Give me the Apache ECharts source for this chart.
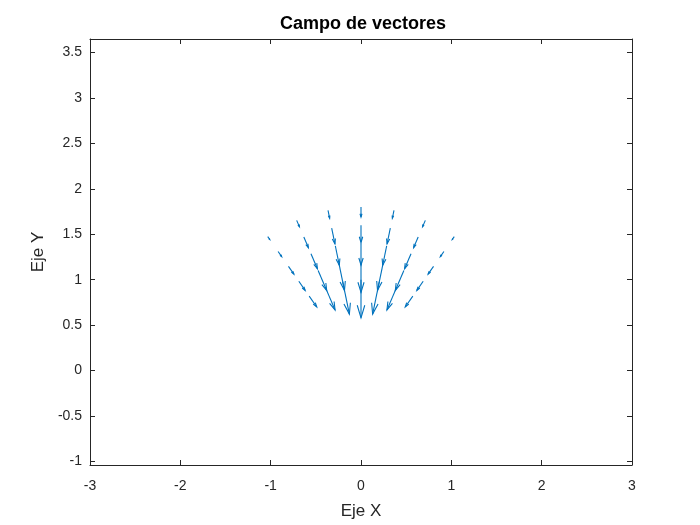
<!DOCTYPE html>
<html>
<head>
<meta charset="utf-8">
<script src="https://cdn.jsdelivr.net/npm/echarts@6/dist/echarts.min.js"></script>
<style>
  html, body { margin: 0; padding: 0; background: #fff; }
  #main { width: 700px; height: 525px; }
</style>
</head>
<body>
<div id="main"></div>
<script>
// campo de vectores: flechas radiales hacia el origen
var rayAngles = [55, 66.7, 78.3, 90, 101.7, 113.3, 125];   // grados
var radii = [1.0, 1.2, 1.4, 1.6, 1.8];                      // radio de la cola
// longitud de cada flecha (unidades de datos), una fila por rayo, en orden de radii
var arrowLen = [
  [0.146, 0.122, 0.105, 0.069, 0.039],
  [0.274, 0.240, 0.180, 0.127, 0.077],
  [0.365, 0.298, 0.215, 0.177, 0.088],
  [0.420, 0.340, 0.240, 0.190, 0.110],
  [0.365, 0.298, 0.215, 0.177, 0.088],
  [0.274, 0.240, 0.180, 0.127, 0.077],
  [0.146, 0.122, 0.105, 0.069, 0.039]
];
var xTicks = [-3, -2, -1, 0, 1, 2, 3];
var yTicks = [-1, -0.5, 0, 0.5, 1, 1.5, 2, 2.5, 3, 3.5];

var data = [];
rayAngles.forEach(function (a, i) {
  radii.forEach(function (r, j) {
    data.push([a, r, arrowLen[i][j]]);
  });
});

var chart = echarts.init(document.getElementById('main'));
var axisCol = '#262626';
var font = 'Arial, "Liberation Sans", Helvetica, sans-serif';

function baseAxis(extra) {
  var ax = {
    type: 'value',
    axisLine: { show: true, onZero: false, lineStyle: { color: axisCol, width: 1 } },
    axisTick: { show: true, inside: true, length: 5, lineStyle: { color: axisCol } },
    splitLine: { show: false },
    axisLabel: { color: axisCol, fontSize: 14, fontFamily: font }
  };
  return Object.assign(ax, extra);
}

var option = {
  animation: false,
  backgroundColor: '#fff',
  graphic: [{
    type: 'text', x: 363, y: 24,
    style: { text: 'Campo de vectores', fontSize: 18, fontWeight: 'bold', fontFamily: font,
             fill: '#000', align: 'center', verticalAlign: 'middle' }
  }],
  grid: { left: 90, right: 68, top: 39, bottom: 60 },
  xAxis: [
    baseAxis({ min: -3, max: 3, interval: 1, position: 'bottom',
      name: 'Eje X', nameLocation: 'middle', nameGap: 38,
      nameTextStyle: { color: axisCol, fontSize: 17, fontFamily: font },
      axisLabel: { color: axisCol, fontSize: 14, fontFamily: font, margin: 14 } }),
    baseAxis({ min: -3, max: 3, interval: 1, position: 'top',
      axisLabel: { show: false } })
  ],
  yAxis: [
    baseAxis({ min: -1.04, max: 3.65, position: 'left',
      name: 'Eje Y', nameLocation: 'middle', nameGap: 40,
      nameTextStyle: { color: axisCol, fontSize: 17, fontFamily: font },
      axisTick: { show: true, inside: true, length: 5, customValues: yTicks, lineStyle: { color: axisCol } },
      axisLabel: { color: axisCol, fontSize: 14, fontFamily: font, margin: 8, customValues: yTicks } }),
    baseAxis({ min: -1.04, max: 3.65, position: 'right',
      axisTick: { show: true, inside: true, length: 5, customValues: yTicks, lineStyle: { color: axisCol } },
      axisLabel: { show: false } })
  ],
  series: [{
    type: 'custom',
    xAxisIndex: 0,
    yAxisIndex: 0,
    data: data,
    renderItem: function (params, api) {
      var a = api.value(0) * Math.PI / 180;
      var r = api.value(1);
      var len = api.value(2);
      var x0 = r * Math.cos(a), y0 = r * Math.sin(a);
      var x1 = (r - len) * Math.cos(a), y1 = (r - len) * Math.sin(a);
      var p0 = api.coord([x0, y0]);
      var p1 = api.coord([x1, y1]);
      var u = p1[0] - p0[0], v = p1[1] - p0[1];
      var alpha = 0.33, beta = 0.3;
      var h1 = [p1[0] - alpha * (u + beta * v), p1[1] - alpha * (v - beta * u)];
      var h2 = [p1[0] - alpha * (u - beta * v), p1[1] - alpha * (v + beta * u)];
      var st = { stroke: '#0072BD', lineWidth: 1.1, fill: null };
      return {
        type: 'group',
        children: [
          { type: 'polyline', shape: { points: [p0, p1] }, style: st },
          { type: 'polyline', shape: { points: [h1, p1, h2] }, style: st }
        ]
      };
    }
  }]
};

chart.setOption(option);
</script>
</body>
</html>
